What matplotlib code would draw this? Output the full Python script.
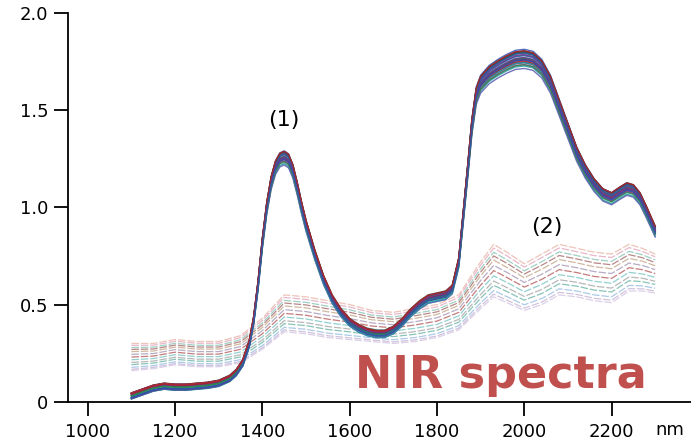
import numpy
import matplotlib
matplotlib.use('Agg')
import matplotlib.pyplot as plt

plt.rcParams['font.family'] = ['DejaVu Sans']

# group (1): spectra, centre curve
wl_1 = [1100, 1125, 1150, 1175, 1200, 1225, 1250, 1275, 1300, 1325, 1340, 1355, 1370, 1380,
        1390, 1400, 1410, 1420, 1430, 1440, 1450, 1460, 1470, 1480, 1490, 1500, 1520, 1540,
        1560, 1580, 1600, 1620, 1640, 1660, 1680, 1700, 1720, 1740, 1760, 1780, 1800, 1820,
        1835, 1850, 1860, 1870, 1880, 1890, 1900, 1920, 1940, 1960, 1980, 2000, 2020, 2040,
        2060, 2080, 2100, 2120, 2140, 2160, 2180, 2200, 2220, 2235, 2250, 2265, 2280, 2300]
abs_1 = [0.03, 0.05, 0.07, 0.08, 0.075, 0.075, 0.08, 0.085, 0.095, 0.12, 0.15, 0.20, 0.30, 0.42,
         0.60, 0.82, 1.00, 1.13, 1.21, 1.25, 1.26, 1.245, 1.19, 1.10, 1.00, 0.91, 0.76, 0.63,
         0.53, 0.46, 0.41, 0.38, 0.36, 0.35, 0.35, 0.37, 0.41, 0.46, 0.50, 0.53, 0.54, 0.55,
         0.58, 0.72, 0.95, 1.18, 1.42, 1.58, 1.64, 1.69, 1.72, 1.745, 1.765, 1.77, 1.76, 1.72,
         1.64, 1.52, 1.40, 1.28, 1.19, 1.12, 1.07, 1.05, 1.08, 1.10, 1.09, 1.05, 0.98, 0.88]
# spread of the individual spectra in group (1)
scale_1 = [0.98, 1.02, 0.99, 1.025, 0.985, 1.01, 1.00, 0.975, 1.02, 0.99, 1.015, 0.98, 1.01, 1.00,
           0.985, 1.02, 0.995, 1.01, 0.975, 1.005, 1.00, 0.985, 1.02, 0.99, 1.01, 0.98, 1.015, 1.00]
offset_1 = [0.01, -0.01, 0.015, 0.00, -0.015, 0.01, 0.015, -0.01, 0.00, 0.01, -0.015, 0.015, 0.00, -0.01,
            0.01, 0.00, -0.015, 0.015, 0.01, -0.01, 0.00, 0.015, -0.01, 0.01, -0.015, 0.00, 0.01, -0.01]
colors_1 = ['#6a3d9a', '#2e8b57', '#b22222', '#3050b0', '#1f9e9e', '#404040', '#a0307a',
            '#5a5ab0', '#228b22', '#c03040', '#2060a0', '#703080']

# group (2): lowest and highest spectrum, the rest lie between
wl_2 = [1100, 1150, 1200, 1250, 1300, 1350, 1400, 1450, 1500, 1550, 1600, 1650, 1700, 1750,
        1800, 1850, 1900, 1930, 1960, 2000, 2040, 2080, 2120, 2160, 2200, 2240, 2270, 2300]
high_2 = [0.30, 0.30, 0.32, 0.31, 0.31, 0.34, 0.43, 0.55, 0.54, 0.52, 0.50, 0.47, 0.46, 0.48,
          0.50, 0.55, 0.72, 0.81, 0.77, 0.71, 0.76, 0.81, 0.79, 0.77, 0.76, 0.81, 0.79, 0.76]
low_2 = [0.16, 0.17, 0.19, 0.18, 0.18, 0.20, 0.27, 0.36, 0.35, 0.33, 0.32, 0.31, 0.30, 0.31,
         0.33, 0.37, 0.48, 0.54, 0.51, 0.47, 0.50, 0.55, 0.54, 0.52, 0.51, 0.57, 0.57, 0.56]
level_2 = [1.0, 0.93, 0.85, 0.78, 0.70, 0.60, 0.50, 0.40, 0.30, 0.22, 0.12, 0.05, 0.0]
colors_2 = ['#e6b0a0', '#e0a0b8', '#80c0b0', '#a06060', '#c0a080', '#a090b0', '#b05050',
            '#70c0c0', '#a0a0a0', '#60b0a0', '#90b8e0', '#c0b0d0', '#d0c0e0']

fig = plt.figure(figsize=(6.91, 4.46), dpi=100)
ax = fig.add_axes([0.098, 0.0993, 0.902, 0.871])

low = numpy.array(low_2)
high = numpy.array(high_2)
for i, w in enumerate(level_2):
    ax.plot(wl_2, low + w * (high - low), color=colors_2[i % len(colors_2)], lw=0.9,
            ls=(0, (6, 1.5)), alpha=0.75)

base = numpy.array(abs_1)
for i in range(len(scale_1)):
    ax.plot(wl_1, base * scale_1[i] + offset_1[i], color=colors_1[i % len(colors_1)],
            lw=1.0, alpha=0.85)

ax.set_xlim(954, 2382)
ax.set_ylim(0, 2.0)
ax.spines['top'].set_visible(False)
ax.spines['right'].set_visible(False)
ax.spines['left'].set_linewidth(1.3)
ax.spines['bottom'].set_linewidth(1.3)
ax.set_xticks([1000, 1200, 1400, 1600, 1800, 2000, 2200])
ax.set_yticks([0, 0.5, 1.0, 1.5, 2.0])
ax.set_yticklabels(['0', '0.5', '1.0', '1.5', '2.0'])
ax.tick_params(axis='both', direction='out', length=10, width=1.3, labelsize=13, pad=5)
ax.tick_params(axis='y', pad=4)

ax.text(1448, 1.45, '(1)', fontsize=16, ha='center', va='center')
ax.text(2052, 0.90, '(2)', fontsize=16, ha='center', va='center')
ax.text(1613, 0.07, 'NIR spectra', fontsize=32, fontweight='bold', color='#c0504d',
        ha='left', va='baseline')
ax.text(0.966, -0.072, 'nm', transform=ax.transAxes, fontsize=13, ha='center', va='center')

plt.savefig('out.png', dpi=100)
